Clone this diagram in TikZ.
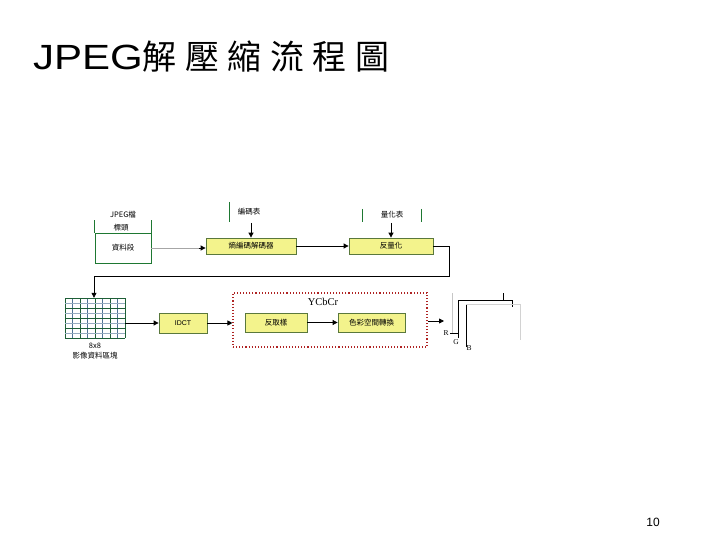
\documentclass[tikz,border=0pt]{standalone}
\usepackage{fontspec}
\setmainfont{Liberation Sans}
\newfontfamily\cjk{Noto Sans CJK TC}
\newfontfamily\serifwin{Liberation Serif}
\usetikzlibrary{arrows.meta}
\definecolor{boxyellow}{RGB}{243,243,140}
\definecolor{boxedge}{RGB}{90,120,60}
\definecolor{hdrgreen}{RGB}{30,120,50}
\definecolor{dotred}{RGB}{175,35,35}
\definecolor{gridblue}{RGB}{80,115,150}
\definecolor{gridgreen}{RGB}{30,95,55}
\tikzset{
  ybox/.style={draw=boxedge, line width=0.8pt, fill=boxyellow, inner sep=0pt,
    font=\cjk\fontsize{7.5}{8}\selectfont},
  lbl/.style={inner sep=0pt, font=\cjk\fontsize{7.5}{8}\selectfont},
  arr/.style={draw=black, line width=0.8pt, -{Triangle[length=5pt,width=5pt]}},
  plainline/.style={draw=black, line width=0.8pt},
}
\begin{document}
\begin{tikzpicture}[x=1pt,y=-1pt]
\useasboundingbox (0,0) rectangle (720,540);
% title
\node[anchor=west, inner sep=0pt, font=\fontsize{35}{40}\selectfont] (ttl) at (33,57)
  {\scalebox{1.2}[1]{JPEG}\cjk\fontsize{34}{40}\selectfont 解\hspace{8.5pt}壓\hspace{8.5pt}縮\hspace{8.5pt}流\hspace{8.5pt}程\hspace{8.5pt}圖};
% page number
\node[inner sep=0pt, font=\fontsize{12}{14}\selectfont] (pg) at (653,522) {10};

% JPEG file box
\node[lbl] (jpeg) at (123,215) {JPEG檔};
\node[lbl] (hdr) at (121,228) {標頭};
\node[draw=hdrgreen, line width=0.8pt, minimum width=56pt, minimum height=30pt, inner sep=0pt,
  font=\cjk\fontsize{7.5}{8}\selectfont] (data) at (123,248) {資料段};
\draw[draw=hdrgreen, line width=0.8pt] (data.north west) -- ++(0,-13);
\draw[draw=hdrgreen, line width=0.8pt] (data.north east) -- ++(0,-13);

% decoder boxes
\node[ybox, minimum width=90pt, minimum height=16pt] (dec) at (251,246) {熵編碼解碼器};
\node[ybox, minimum width=84pt, minimum height=16pt] (deq) at (391,246) {反量化};

% table labels
\node[lbl] (huff) at (249,212) {編碼表};
\draw[draw=hdrgreen, line width=0.8pt] (229,202) -- (229,222);
\coordinate (huffa) at (251,223);
\draw[arr] (huffa) -- (dec.north);
\node[lbl] (quant) at (392,215) {量化表};
\draw[draw=hdrgreen, line width=0.8pt] (362,209) -- (362,222);
\draw[draw=hdrgreen, line width=0.8pt] (421,209) -- (421,222);
\coordinate (quanta) at (391,223);
\draw[arr] (quanta) -- (deq.north);

% connections top row
\coordinate (dgray) at ([xshift=-7pt]data.east -| dec.west);
\draw[draw=gray!70, line width=0.8pt] (data.east) -- (dgray);
\draw[arr] (dgray) -- (data.east -| dec.west);
\draw[arr] (dec.east) -- (deq.west);

% grid
\node[minimum width=60pt, minimum height=40pt, inner sep=0pt] (grid) at (95,318) {};
\foreach \i in {0,...,8} {
  \pgfmathsetmacro{\xx}{65+7.5*\i}
  \ifodd\i
    \draw[draw=gridblue, line width=1pt] (\xx,298) -- (\xx,338);
  \else
    \draw[draw=gridgreen, line width=1pt] (\xx,298) -- (\xx,338);
  \fi
}
\foreach \j in {0,...,8} {
  \pgfmathsetmacro{\yy}{298+5*\j}
  \ifodd\j
    \draw[draw=gridblue!60, line width=0.9pt] (65,\yy) -- (125,\yy);
  \else
    \draw[draw=gridgreen, line width=0.9pt] (65,\yy) -- (125,\yy);
  \fi
}
\node[lbl] (sz) at (95,346) {8x8};
\node[lbl] (blk) at (95,356) {影像資料區塊};

% feedback line from deq to grid
\draw[arr] (deq.east) -- (449,246) -- (449,276) -- (94,276) -- (grid.north -| 94,0);

% IDCT
\node[ybox, minimum width=48pt, minimum height=20pt, font=\fontsize{7}{8}\selectfont] (idct) at (183,323) {IDCT};
\draw[arr] (grid.east |- idct) -- (idct.west);

% YCbCr dotted group
\node[draw=dotred, dotted, line width=1.1pt, minimum width=194pt, minimum height=54pt, inner sep=0pt] (ycc) at (330,320) {};
\node[inner sep=0pt, font=\serifwin\fontsize{10.5}{12}\selectfont] (ycctxt) at (323,302) {YCbCr};
\draw[arr] (idct.east) -- (idct.east -| ycc.west);
\node[ybox, minimum width=62pt, minimum height=19pt] (ups) at (276,322.5) {反取樣};
\node[ybox, minimum width=67pt, minimum height=19pt] (csc) at (371.5,322.5) {色彩空間轉換};
\draw[arr] (ups.east) -- (csc.west);

% output RGB
\coordinate (rgbin) at (444,321);
\draw[arr] (ycc.east |- rgbin) -- (rgbin);
\draw[draw=gray!45, line width=0.7pt] (452,333) -- (452,293);
\draw[plainline] (458,338) -- (458,300) -- (512,300) -- (512,307);
\draw[plainline] (503,293) -- (503,300);
\draw[plainline] (466,347) -- (466,304);
\draw[draw=gray!35, line width=0.6pt] (466,304) -- (520,304) -- (520,340);
\draw[draw=black, line width=0.6pt] (450,333) -- (458,333);
\node[inner sep=0pt, font=\serifwin\fontsize{7.5}{8}\selectfont] (rR) at (446,333) {R};
\node[inner sep=0pt, font=\serifwin\fontsize{7.5}{8}\selectfont] (rG) at (456,342) {G};
\node[inner sep=0pt, font=\serifwin\fontsize{7.5}{8}\selectfont] (rB) at (469,348) {B};
\end{tikzpicture}
\end{document}
